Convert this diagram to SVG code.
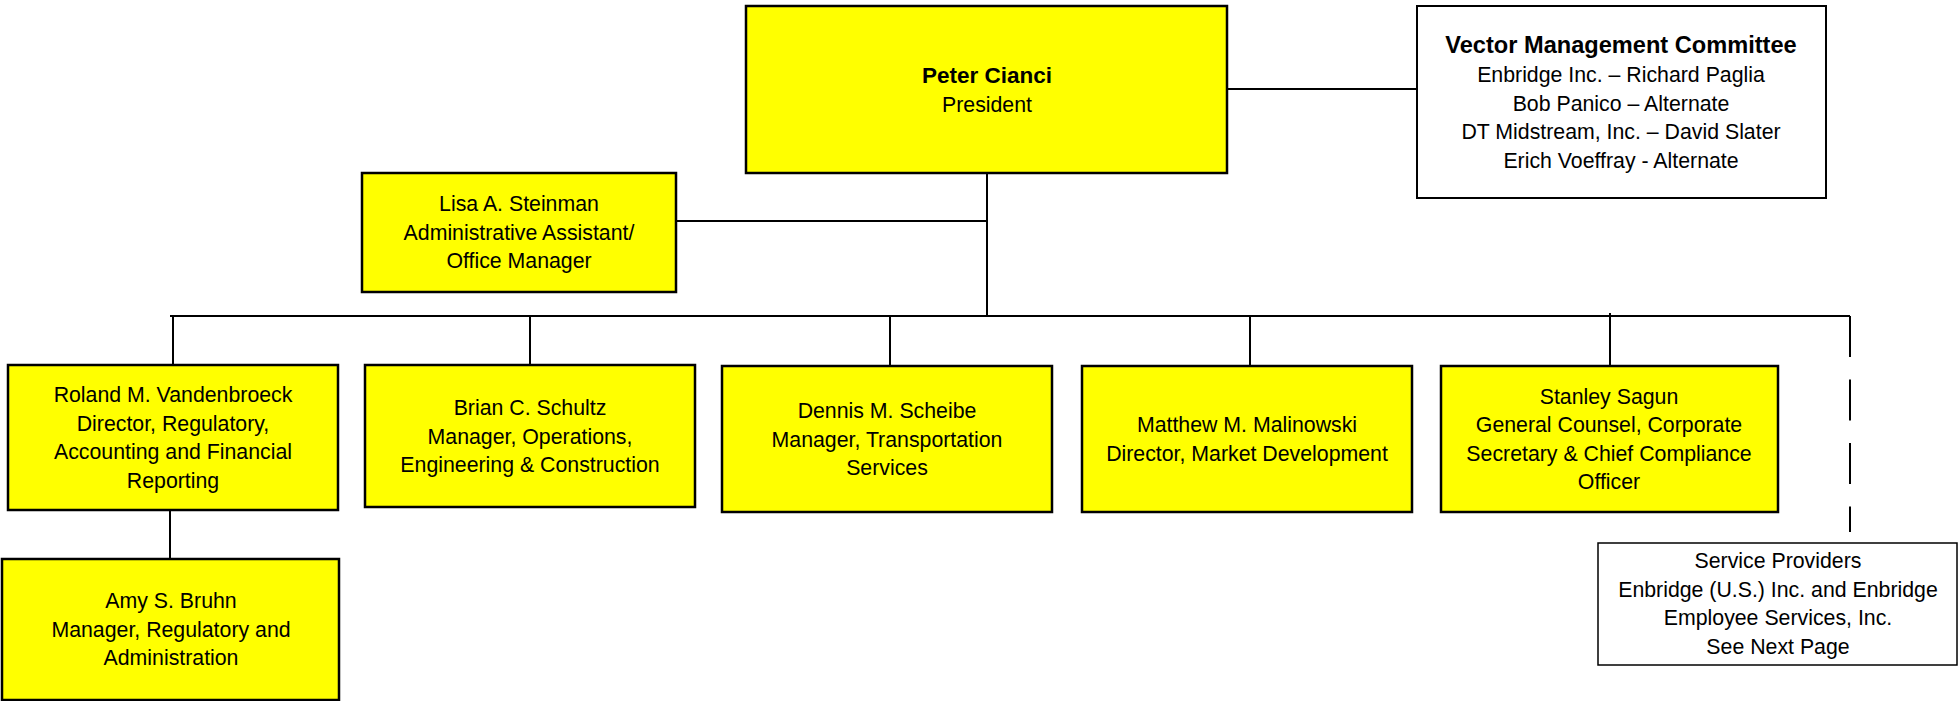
<svg xmlns="http://www.w3.org/2000/svg" width="1959" height="701" viewBox="0 0 1959 701">
<style>
.box{fill:#FFFF00;stroke:#000;stroke-width:2.5}
.wbox{fill:#fff;stroke:#000;stroke-width:2}
.ln{stroke:#000;stroke-width:2;fill:none}
text{font-family:"Liberation Sans",Arial,sans-serif;font-size:21.3px;fill:#000;text-anchor:middle}
.b{font-weight:bold;font-size:22.5px}
</style>
<rect width="1959" height="701" fill="#fff"/>
<g id="connectors">
<line class="ln" x1="1227" y1="89" x2="1417" y2="89"/>
<line class="ln" x1="987" y1="173" x2="987" y2="316"/>
<line class="ln" x1="676" y1="221" x2="987" y2="221"/>
<line class="ln" x1="170" y1="316" x2="1850" y2="316"/>
<line class="ln" x1="173" y1="316" x2="173" y2="365"/>
<line class="ln" x1="530" y1="316" x2="530" y2="365"/>
<line class="ln" x1="890" y1="316" x2="890" y2="366"/>
<line class="ln" x1="1250" y1="316" x2="1250" y2="366"/>
<line class="ln" x1="1610" y1="313" x2="1610" y2="366"/>
<line class="ln" x1="1850" y1="316" x2="1850" y2="532" stroke-dasharray="41 22.5"/>
<line class="ln" x1="170" y1="510" x2="170" y2="559"/>
</g>
<g id="president">
<rect class="box" x="746" y="6" width="481" height="167"/>
<text class="b" x="987" y="83">Peter Cianci</text>
<text x="987" y="112">President</text>
</g>
<g id="committee">
<rect class="wbox" x="1417" y="6" width="409" height="192"/>
<text class="b" x="1621" y="53" style="font-size:23.6px">Vector Management Committee</text>
<text x="1621" y="82">Enbridge Inc. – Richard Paglia</text>
<text x="1621" y="110.5">Bob Panico – Alternate</text>
<text x="1621" y="139">DT Midstream, Inc. – David Slater</text>
<text x="1621" y="167.5">Erich Voeffray - Alternate</text>
</g>
<g id="steinman">
<rect class="box" x="362" y="173" width="314" height="119"/>
<text x="519" y="211">Lisa A. Steinman</text>
<text x="519" y="239.5">Administrative Assistant/</text>
<text x="519" y="268">Office Manager</text>
</g>
<g id="vandenbroeck">
<rect class="box" x="8" y="365" width="330" height="145"/>
<text x="173" y="402">Roland M. Vandenbroeck</text>
<text x="173" y="430.5">Director, Regulatory,</text>
<text x="173" y="459">Accounting and Financial</text>
<text x="173" y="487.5">Reporting</text>
</g>
<g id="schultz">
<rect class="box" x="365" y="365" width="330" height="142"/>
<text x="530" y="415">Brian C. Schultz</text>
<text x="530" y="443.5">Manager, Operations,</text>
<text x="530" y="472">Engineering &amp; Construction</text>
</g>
<g id="scheibe">
<rect class="box" x="722" y="366" width="330" height="146"/>
<text x="887" y="418">Dennis M. Scheibe</text>
<text x="887" y="446.5">Manager, Transportation</text>
<text x="887" y="475">Services</text>
</g>
<g id="malinowski">
<rect class="box" x="1082" y="366" width="330" height="146"/>
<text x="1247" y="432">Matthew M. Malinowski</text>
<text x="1247" y="460.5">Director, Market Development</text>
</g>
<g id="sagun">
<rect class="box" x="1441" y="366" width="337" height="146"/>
<text x="1609" y="403.5">Stanley Sagun</text>
<text x="1609" y="432">General Counsel, Corporate</text>
<text x="1609" y="460.5">Secretary &amp; Chief Compliance</text>
<text x="1609" y="489">Officer</text>
</g>
<g id="bruhn">
<rect class="box" x="2" y="559" width="337" height="141"/>
<text x="171" y="608">Amy S. Bruhn</text>
<text x="171" y="636.5">Manager, Regulatory and</text>
<text x="171" y="665">Administration</text>
</g>
<g id="service-providers">
<rect class="wbox" x="1598" y="543" width="359" height="122" style="stroke-width:1.5"/>
<text x="1778" y="568">Service Providers</text>
<text x="1778" y="596.5">Enbridge (U.S.) Inc. and Enbridge</text>
<text x="1778" y="625">Employee Services, Inc.</text>
<text x="1778" y="653.5">See Next Page</text>
</g>
</svg>
